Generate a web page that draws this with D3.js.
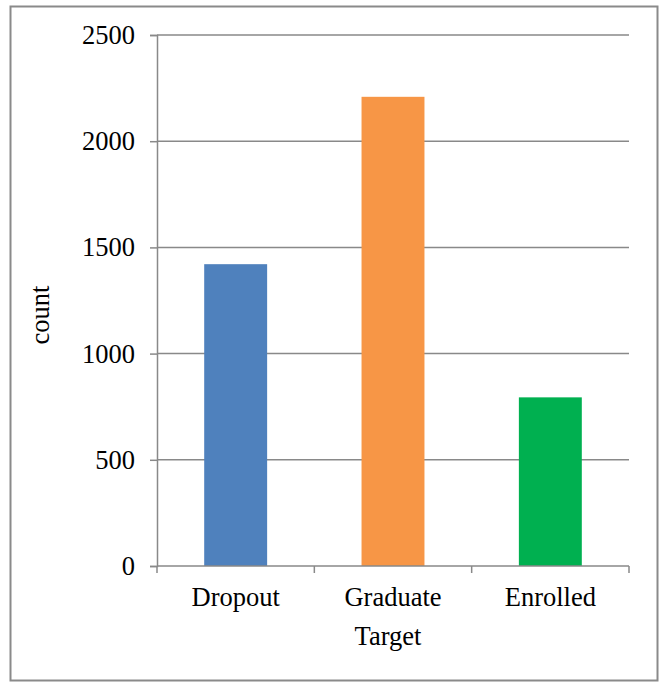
<!DOCTYPE html>
<html>
<head>
<meta charset="utf-8">
<script src="https://cdn.jsdelivr.net/npm/d3@7"></script>
<style>
  html, body { margin: 0; padding: 0; background: #fff; }
  svg { display: block; }
</style>
</head>
<body>
<svg id="chart" width="660" height="682"></svg>
<script>
// Student outcome counts by target class
const categories = ["Dropout", "Graduate", "Enrolled"];
const counts = [1421, 2209, 794];
const barColors = ["#4F81BD", "#F79646", "#00B050"];
const yTicks = [0, 500, 1000, 1500, 2000, 2500];

const svg = d3.select("#chart");
const W = 660, H = 682;
const margin = { left: 157, right: 31, top: 35, bottom: 116 };
const font = "'Liberation Serif', 'Times New Roman', serif";
const fontSize = 26.5;
const axisColor = "#898989";

// outer frame
svg.append("rect")
  .attr("x", 10.5).attr("y", 6.5)
  .attr("width", 647).attr("height", 674)
  .attr("fill", "#fff")
  .attr("stroke", "#8a8a8a").attr("stroke-width", 2);

const x = d3.scaleBand()
  .domain(categories)
  .range([margin.left, W - margin.right])
  .paddingInner(0.6)
  .paddingOuter(0.3);

const y = d3.scaleLinear()
  .domain([0, 2500])
  .range([H - margin.bottom, margin.top]);

// horizontal gridlines
svg.append("g")
  .selectAll("line")
  .data(yTicks.filter(d => d > 0))
  .join("line")
  .attr("x1", margin.left).attr("x2", W - margin.right)
  .attr("y1", d => y(d)).attr("y2", d => y(d))
  .attr("stroke", axisColor).attr("stroke-width", 1.5);

// bars
svg.append("g")
  .selectAll("rect")
  .data(categories)
  .join("rect")
  .attr("x", d => x(d))
  .attr("width", x.bandwidth())
  .attr("y", (d, i) => y(counts[i]))
  .attr("height", (d, i) => y(0) - y(counts[i]))
  .attr("fill", (d, i) => barColors[i]);

// y axis
const yAxis = svg.append("g")
  .attr("transform", `translate(${margin.left},0)`)
  .call(d3.axisLeft(y).tickValues(yTicks).tickSize(7).tickPadding(15).tickFormat(d3.format("d")));
yAxis.select(".domain").attr("stroke", axisColor).attr("stroke-width", 1.5);
yAxis.selectAll(".tick line").attr("stroke", axisColor).attr("stroke-width", 1.5);
yAxis.selectAll(".tick text")
  .attr("font-family", font).attr("font-size", fontSize).attr("fill", "#000");

// x axis with ticks at band boundaries
const xAxisG = svg.append("g")
  .attr("transform", `translate(0,${y(0)})`);
xAxisG.append("line")
  .attr("x1", margin.left).attr("x2", W - margin.right)
  .attr("stroke", axisColor).attr("stroke-width", 1.5);
const step = x.step();
const bounds = d3.range(categories.length + 1).map(i => margin.left + i * step);
xAxisG.selectAll("line.tk")
  .data(bounds)
  .join("line")
  .attr("class", "tk")
  .attr("x1", d => d).attr("x2", d => d)
  .attr("y1", 0).attr("y2", 7)
  .attr("stroke", axisColor).attr("stroke-width", 1.5);
xAxisG.selectAll("text")
  .data(categories)
  .join("text")
  .attr("x", d => x(d) + x.bandwidth() / 2)
  .attr("y", 40)
  .attr("text-anchor", "middle")
  .attr("font-family", font).attr("font-size", fontSize).attr("fill", "#000")
  .text(d => d);

// axis titles
svg.append("text")
  .attr("x", 388).attr("y", 645)
  .attr("text-anchor", "middle")
  .attr("font-family", font).attr("font-size", fontSize)
  .text("Target");

svg.append("text")
  .attr("transform", "translate(49,315) rotate(-90)")
  .attr("text-anchor", "middle")
  .attr("font-family", font).attr("font-size", fontSize)
  .text("count");
</script>
</body>
</html>
